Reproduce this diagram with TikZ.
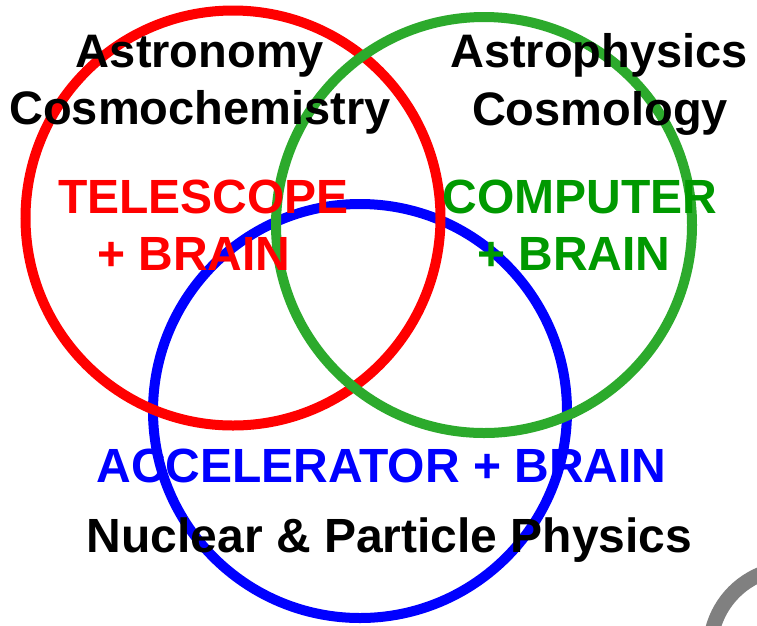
\documentclass[tikz,border=0pt]{standalone}
\usepackage{fontspec}
\setmainfont{Liberation Sans}
\definecolor{cred}{RGB}{255,0,0}
\definecolor{cgreen}{RGB}{44,170,44}
\definecolor{tgreen}{RGB}{0,153,0}
\definecolor{cblue}{RGB}{0,0,255}
\definecolor{cgray}{RGB}{128,128,128}
\tikzset{
  ring/.style={line width=10pt},
  lbl/.style={anchor=base, inner sep=0pt, font=\bfseries\fontsize{47}{56}\selectfont},
  biglbl/.style={anchor=base, inner sep=0pt, font=\bfseries\fontsize{48}{58}\selectfont}
}
\begin{document}
\begin{tikzpicture}[x=1pt,y=-1pt]
\useasboundingbox (0,0) rectangle (757,625);
\clip (0,0) rectangle (757,625);
\fill[white] (0,0) rectangle (757,625);
% circles
\draw[ring, cblue] (360,411) circle[radius=207];
\draw[ring, cred] (233,218) circle[radius=207.5];
\draw[ring, cgreen] (484,225) circle[radius=208];
% gray arc at bottom right
\draw[line width=15pt, cgray] (792,650) ++(180:82) arc[start angle=180, end angle=275, radius=82];
% texts
\node[lbl] (astro) at (200,67) {Astronomy};
\node[lbl] (cosmoch) at (200,124) {Cosmochemistry};
\node[lbl] (astroph) at (599,67) {Astrophysics};
\node[lbl] (cosmol) at (600,125) {Cosmology};
\node[biglbl, text=cred] (tel) at (203.5,213) {TELESCOPE};
\node[biglbl, text=cred] (telb) at (194,270) {+ BRAIN};
\node[biglbl, text=tgreen] (comp) at (580,213) {COMPUTER};
\node[biglbl, text=tgreen] (compb) at (574,270) {+ BRAIN};
\node[biglbl, text=cblue] (acc) at (381.5,482) {ACCELERATOR + BRAIN};
\node[biglbl] (nuc) at (389.5,552) {Nuclear \& Particle Physics};
\end{tikzpicture}
\end{document}
